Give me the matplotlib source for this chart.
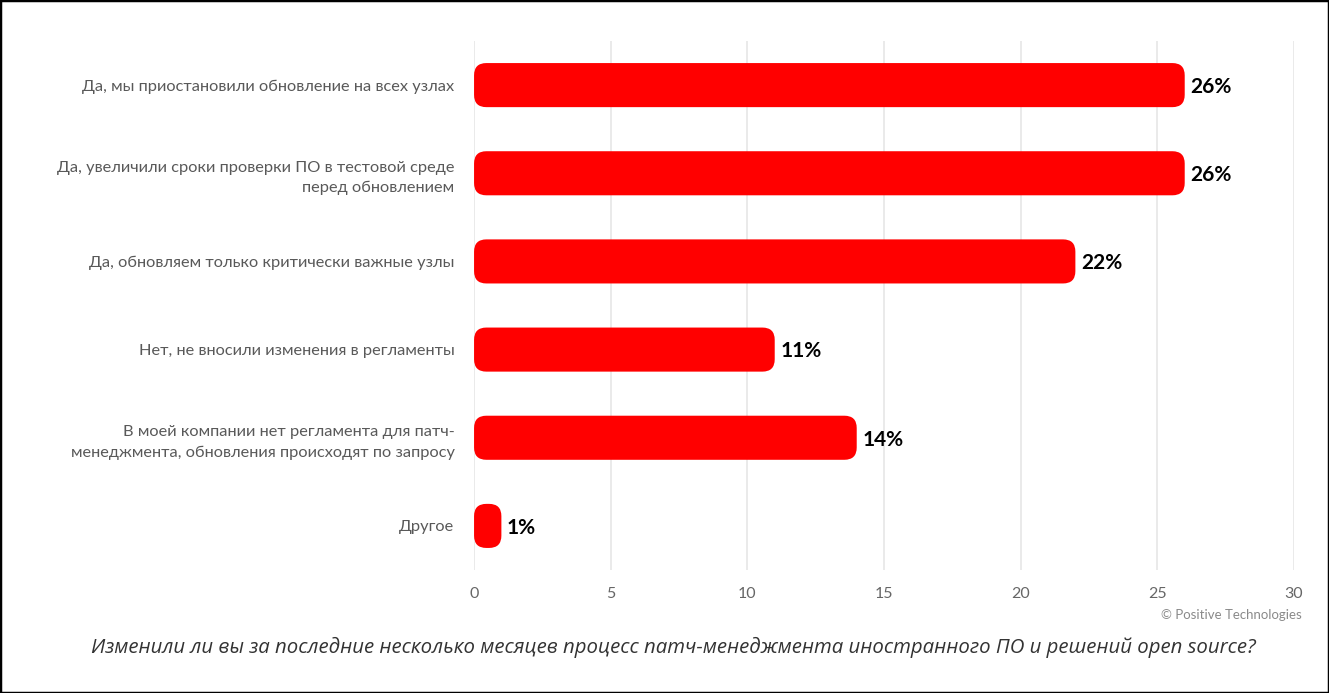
import matplotlib.pyplot as plt
from matplotlib.patches import FancyBboxPatch, Rectangle

# data
categories = [
    "Да, мы приостановили обновление на всех узлах",
    "Да, увеличили сроки проверки ПО в тестовой среде\nперед обновлением",
    "Да, обновляем только критически важные узлы",
    "Нет, не вносили изменения в регламенты",
    "В моей компании нет регламента для патч-\nменеджмента, обновления происходят по запросу",
    "Другое",
]
values = [26, 26, 22, 11, 14, 1]
x_ticks = [0, 5, 10, 15, 20, 25, 30]
caption = ("Изменили ли вы за последние несколько месяцев процесс "
           "патч-менеджмента иностранного ПО и решений open source?")

plt.rcParams['font.family'] = ['Lato', 'DejaVu Sans']

fig = plt.figure(figsize=(13.29, 6.93), dpi=100)
ax = fig.add_axes([0.3567, 0.1775, 0.6170, 0.7633])

bar_h = 0.5
for i, v in enumerate(values):
    box = FancyBboxPatch((0, i - bar_h / 2), v, bar_h,
                         boxstyle="round,pad=0,rounding_size=0.45",
                         mutation_aspect=0.31,
                         facecolor="#ff0000", edgecolor="none", zorder=3)
    ax.add_patch(box)
    ax.text(v + 0.2, i + 0.02, f"{v}%", va="center", ha="left",
            fontsize=15, fontweight="bold", color="black", zorder=4)

ax.set_xlim(0, 30)
ax.set_ylim(len(values) - 0.5, -0.5)
ax.set_yticks(range(len(categories)))
ax.set_yticklabels(categories, fontsize=11.8, color="#595959", linespacing=1.55)
ax.set_xticks(x_ticks)
ax.set_xticklabels([str(t) for t in x_ticks], fontsize=11.5, color="#666666")
ax.tick_params(axis="both", length=0)
ax.tick_params(axis="y", pad=14)
ax.tick_params(axis="x", pad=12)
for lbl in ax.get_yticklabels():
    lbl.set_horizontalalignment("right")
ax.grid(axis="x", color="#e6e6e6", linewidth=1.2, zorder=0)
ax.set_axisbelow(True)
for s in ax.spines.values():
    s.set_visible(False)

fig.text(0.9797, 1 - 615 / 693, "© Positive Technologies", ha="right", va="center",
         fontsize=9.5, color="#8a8a8a")
fig.text(0.507, 1 - 647 / 693, caption, ha="center", va="center",
         fontsize=14.65, style="italic", color="#333333",
         family=["Open Sans", "DejaVu Sans"])

fig.patches.append(Rectangle((0, 0), 1, 1, transform=fig.transFigure,
                             fill=False, edgecolor="black", linewidth=2.5))

fig.savefig("out.png", dpi=100)
